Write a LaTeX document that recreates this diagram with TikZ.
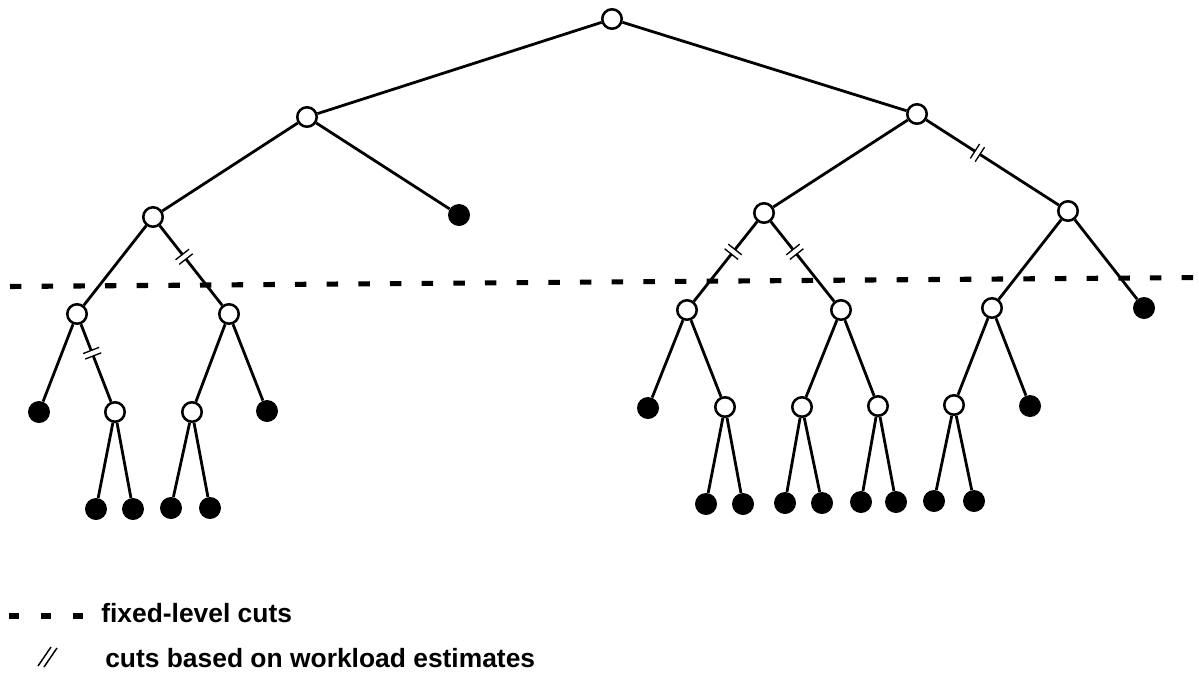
\documentclass[tikz,border=0pt]{standalone}
\usepackage{fontspec}
\setmainfont{Liberation Sans}
\begin{document}
\begin{tikzpicture}[x=0.75pt,y=-0.75pt,
  wn/.style={circle,draw=black,fill=white,line width=1.9pt,minimum size=14.6pt,inner sep=0pt},
  bn/.style={circle,fill=black,minimum size=16.5pt,inner sep=0pt},
  edgeln/.style={line width=2.1pt},
  cutmk/.style={sloped,fill=white,inner sep=0pt,minimum width=4pt,minimum height=12.5pt,
    append after command={(\tikzlastnode.north west) edge[line width=1pt] (\tikzlastnode.south west)
      (\tikzlastnode.north east) edge[line width=1pt] (\tikzlastnode.south east)}},
  fixedcut/.style={line width=3.8pt,dash pattern=on 8.6pt off 15.15pt},
  legtext/.style={font=\bfseries\fontsize{19.8pt}{22pt}\selectfont,anchor=base west,inner sep=0pt}
]
\useasboundingbox (0,0) rectangle (1199,675);
% nodes
\node[wn] (r) at (612,19) {};
\node[wn] (a) at (307,117) {};
\node[wn] (b) at (917,114) {};
\node[wn] (aa) at (153,217) {};
\node[bn] (ab) at (459,215) {};
\node[wn] (ba) at (764,213) {};
\node[wn] (bb) at (1068,211) {};
\node[wn] (aaa) at (77,314) {};
\node[wn] (aab) at (229,314) {};
\node[wn] (baa) at (687,310) {};
\node[wn] (bab) at (841,310) {};
\node[wn] (bba) at (992,308) {};
\node[bn] (bbb) at (1144,308) {};
\node[bn] (aaaa) at (39,412) {};
\node[wn] (aaab) at (115,412) {};
\node[wn] (aaba) at (192,412) {};
\node[bn] (aabb) at (267,411) {};
\node[bn] (baaa) at (648,408) {};
\node[wn] (baab) at (725,407) {};
\node[wn] (baba) at (802,407) {};
\node[wn] (babb) at (878,406) {};
\node[wn] (bbaa) at (954,405) {};
\node[bn] (bbab) at (1030,406) {};
\node[bn] (aaaba) at (96,509) {};
\node[bn] (aaabb) at (133,509) {};
\node[bn] (aabaa) at (171,508) {};
\node[bn] (aabab) at (210,508) {};
\node[bn] (baaba) at (706,504) {};
\node[bn] (baabb) at (743,504) {};
\node[bn] (babaa) at (785,503) {};
\node[bn] (babab) at (822,503) {};
\node[bn] (babba) at (861,502) {};
\node[bn] (babbb) at (896,502) {};
\node[bn] (bbaaa) at (934,501) {};
\node[bn] (bbaab) at (974,501) {};
% edges
\begin{scope}[edgeln]
\draw (r) -- (a); \draw (r) -- (b);
\draw (a) -- (aa); \draw (a) -- (ab);
\draw (b) -- (ba); \draw (b) -- (bb);
\draw (aa) -- (aaa); \draw (aa) -- (aab);
\draw (ba) -- (baa); \draw (ba) -- (bab);
\draw (bb) -- (bba); \draw (bb) -- (bbb);
\draw (aaa) -- (aaaa); \draw (aaa) -- (aaab);
\draw (aab) -- (aaba); \draw (aab) -- (aabb);
\draw (baa) -- (baaa); \draw (baa) -- (baab);
\draw (bab) -- (baba); \draw (bab) -- (babb);
\draw (bba) -- (bbaa); \draw (bba) -- (bbab);
\draw (aaab) -- (aaaba); \draw (aaab) -- (aaabb);
\draw (aaba) -- (aabaa); \draw (aaba) -- (aabab);
\draw (baab) -- (baaba); \draw (baab) -- (baabb);
\draw (baba) -- (babaa); \draw (baba) -- (babab);
\draw (babb) -- (babba); \draw (babb) -- (babbb);
\draw (bbaa) -- (bbaaa); \draw (bbaa) -- (bbaab);
\end{scope}
% workload cut marks
\path (aa.center) -- node[cutmk,pos=0.41] (c1) {} (aab.center);
\path (aaa.center) -- node[cutmk,pos=0.40] (c2) {} (aaab.center);
\path (b.center) -- node[cutmk,pos=0.40] (c3) {} (bb.center);
\path (ba.center) -- node[cutmk,pos=0.40] (c4) {} (baa.center);
\path (ba.center) -- node[cutmk,pos=0.40] (c5) {} (bab.center);
% fixed-level cut
\coordinate (fl1) at (10,286.5);
\coordinate (fl2) at (1199,277.5);
\draw[fixedcut] (fl1) -- (fl2);
% legend
\coordinate (lg1) at (9,616);
\coordinate (lg2) at (84,616);
\draw[line width=3.8pt,dash pattern=on 7.5pt off 16.5pt] (lg1) -- (lg2);
\node[legtext] (t1) at (101,622) {fixed-level cuts};
\draw[line width=1.1pt] (38,666) -- (51,647);
\draw[line width=1.1pt] (44,667) -- (57,648);
\node[legtext] (t2) at (105,667) {cuts based on workload estimates};
\end{tikzpicture}
\end{document}
